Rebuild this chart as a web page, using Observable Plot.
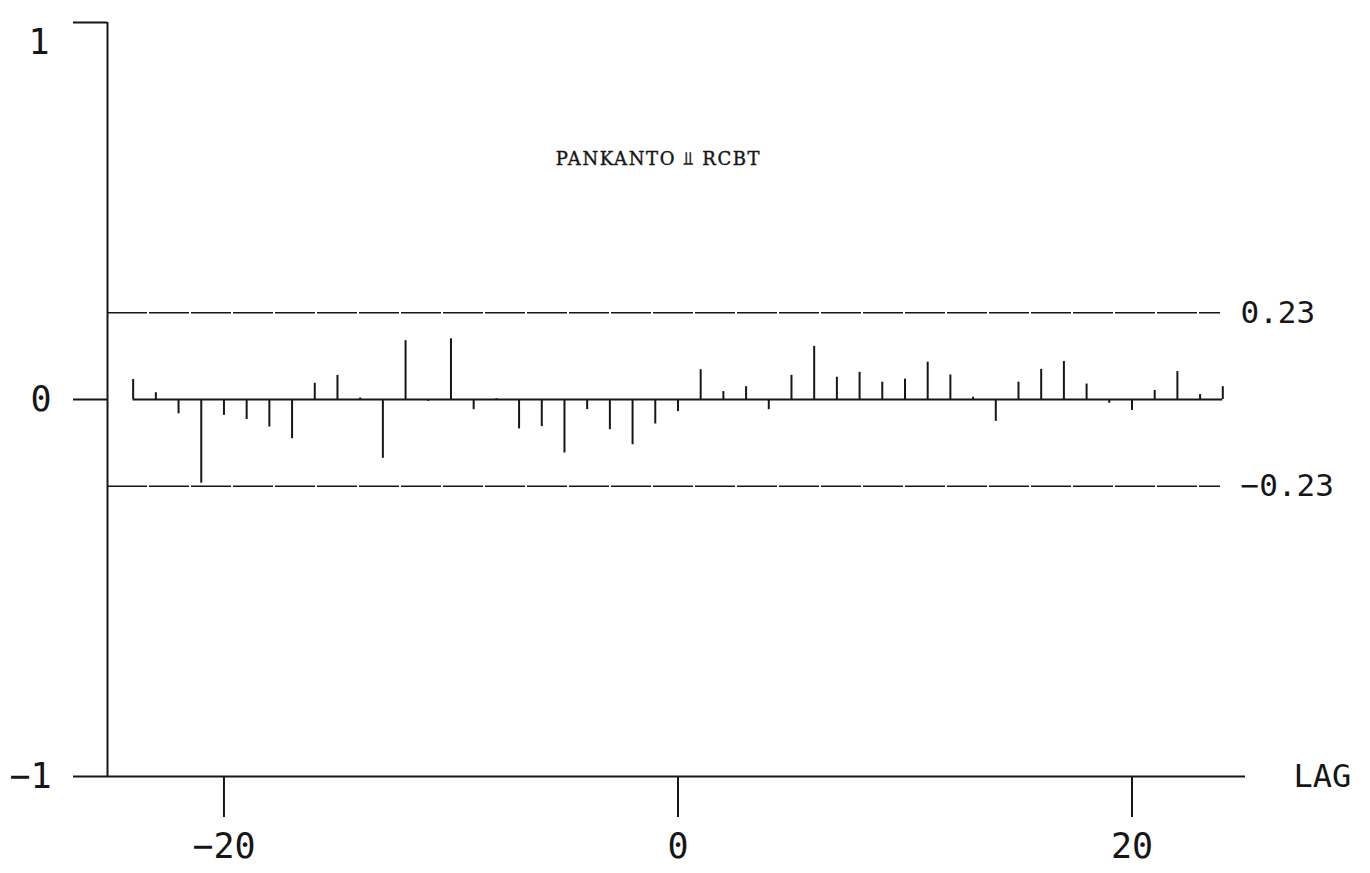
<!DOCTYPE html>
<html><head><meta charset="utf-8">
<script src="https://cdn.jsdelivr.net/npm/d3@7"></script>
<script src="https://cdn.jsdelivr.net/npm/@observablehq/plot@0.6"></script>
<style>body{margin:0;background:#fff}</style>
</head><body><div id="chart"></div>
<script>
const lags = [-24,-23,-22,-21,-20,-19,-18,-17,-16,-15,-14,-13,-12,-11,-10,-9,-8,-7,-6,-5,-4,-3,-2,-1,0,1,2,3,4,5,6,7,8,9,10,11,12,13,14,15,16,17,18,19,20,21,22,23,24];
const values = [0.053,0.018,-0.038,-0.222,-0.042,-0.053,-0.073,-0.104,0.043,0.064,0.004,-0.156,0.156,-0.005,0.161,-0.027,0.002,-0.078,-0.072,-0.142,-0.027,-0.080,-0.120,-0.065,-0.032,0.079,0.021,0.034,-0.027,0.064,0.141,0.059,0.072,0.046,0.054,0.099,0.065,0.006,-0.058,0.046,0.080,0.101,0.041,-0.010,-0.029,0.024,0.074,0.013,0.034];
const yTicks = [1, 0, -1];
const yTicksTop = [1];
const xTicks = [-20, 0, 20];
const bandValues = [0.23, -0.23];
const bandLabels = ["0.23", "\u22120.23"];
const title = "PANKANTO \u2AEB RCBT";
const xLabel = "LAG";

const data = lags.map((lag, i) => ({lag, r: values[i]}));
const bands = bandValues.map((v, i) => ({v, label: bandLabels[i]}));
const xDomain = [-25.13, 25.0];
const bandEnd = 23.9;
const ink = "#161616";
const tickFont = "DejaVu Sans Mono, monospace";
const fmt = d3.format("d");

const chart = Plot.plot({
  width: 1370, height: 873,
  marginLeft: 107, marginRight: 125, marginTop: 22, marginBottom: 97,
  x: {domain: xDomain},
  y: {domain: [-1, 1]},
  style: {background: "#fff", color: ink},
  marks: [
    Plot.ruleX([xDomain[0]], {y1: -1, y2: 1, stroke: ink, strokeWidth: 2}),
    Plot.ruleY([-1], {x1: xDomain[0], x2: xDomain[1], stroke: ink, strokeWidth: 2}),
    Plot.ruleY(bands, {y: "v", x1: xDomain[0], x2: bandEnd, stroke: ink, strokeWidth: 1.6, strokeDasharray: "40,2"}),
    Plot.text(bands, {y: "v", x: bandEnd, dx: 20, text: "label", textAnchor: "start", lineAnchor: "middle", fontSize: 31, fontFamily: tickFont, fill: ink}),
    Plot.ruleY([0], {x1: lags[0], x2: lags[lags.length - 1], stroke: ink, strokeWidth: 2}),
    Plot.ruleX(data, {x: "lag", y1: 0, y2: "r", stroke: ink, strokeWidth: 2}),
    Plot.axisY({ticks: yTicks, tickFormat: d => d === 1 ? "" : fmt(d), tickSize: 34, tickPadding: 22, fontSize: 35, fontFamily: tickFont, strokeWidth: 2, label: null}),
    Plot.axisY({ticks: yTicksTop, tickFormat: fmt, tickSize: 0, tickPadding: 58, fontSize: 35, fontFamily: tickFont, label: null, dy: 20}),
    Plot.axisX({ticks: xTicks, tickFormat: fmt, tickSize: 41, tickPadding: 16, fontSize: 35, fontFamily: tickFont, strokeWidth: 2, label: null}),
    Plot.text([title], {frameAnchor: "top", dx: -18, dy: 130, fontSize: 18, fontFamily: "DejaVu Serif, serif", fill: ink, stroke: ink, strokeWidth: 0.4}),
    Plot.text([xLabel], {frameAnchor: "bottom-right", dx: 48, textAnchor: "start", lineAnchor: "middle", fontSize: 32, fontFamily: tickFont, fill: ink})
  ]
});
d3.select(chart).selectAll("text").filter(function () { return this.textContent === title; })
  .style("letter-spacing", "1.6px");
document.getElementById("chart").appendChild(chart);
</script>
</body></html>
